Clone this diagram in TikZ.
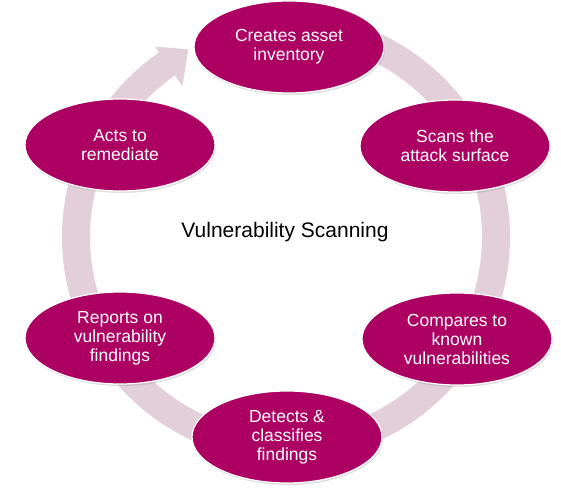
\documentclass[tikz,border=0pt]{standalone}
\usepackage{fontspec}
\setmainfont{Liberation Sans}
\usetikzlibrary{shapes.geometric,shadows}
\definecolor{plum}{RGB}{172,0,98}
\definecolor{ringpink}{RGB}{226,207,217}
\begin{document}
\begin{tikzpicture}[x=1pt,y=1pt,
  stage/.style={ellipse, draw=white, line width=1.2pt, fill=plum, text=white,
    minimum width=190pt, minimum height=92pt, inner sep=0pt, align=center,
    font=\fontsize{17.5}{19}\selectfont,
    drop shadow={opacity=0.25, shadow xshift=1pt, shadow yshift=-2pt}}]
  \useasboundingbox (0,0) rectangle (561,495);
  % cycle ring with arrow head
  \begin{scope}[shift={(286,258)}]
    \fill[ringpink] (90:224) arc[start angle=90, end angle=-235.5, radius=224]
      -- (124.5:231) -- (117.5:211.6) -- (124.5:183) -- (124.5:196)
      arc[start angle=-235.5, end angle=90, radius=196] -- cycle;
  \end{scope}
  \node[font=\fontsize{21}{25}\selectfont] (title) at (285,263) {Vulnerability Scanning};
  \node[stage] (inventory) at (289,448) {Creates asset\\inventory};
  \node[stage] (scan) at (455,349) {Scans the\\attack surface};
  \node[stage] (compare) at (457,156) {Compares to\\known\\vulnerabilities};
  \node[stage] (detect) at (287,58) {Detects \&\\classifies\\findings};
  \node[stage] (report) at (120,157) {Reports on\\vulnerability\\findings};
  \node[stage] (remediate) at (120,350) {Acts to\\remediate};
\end{tikzpicture}
\end{document}
